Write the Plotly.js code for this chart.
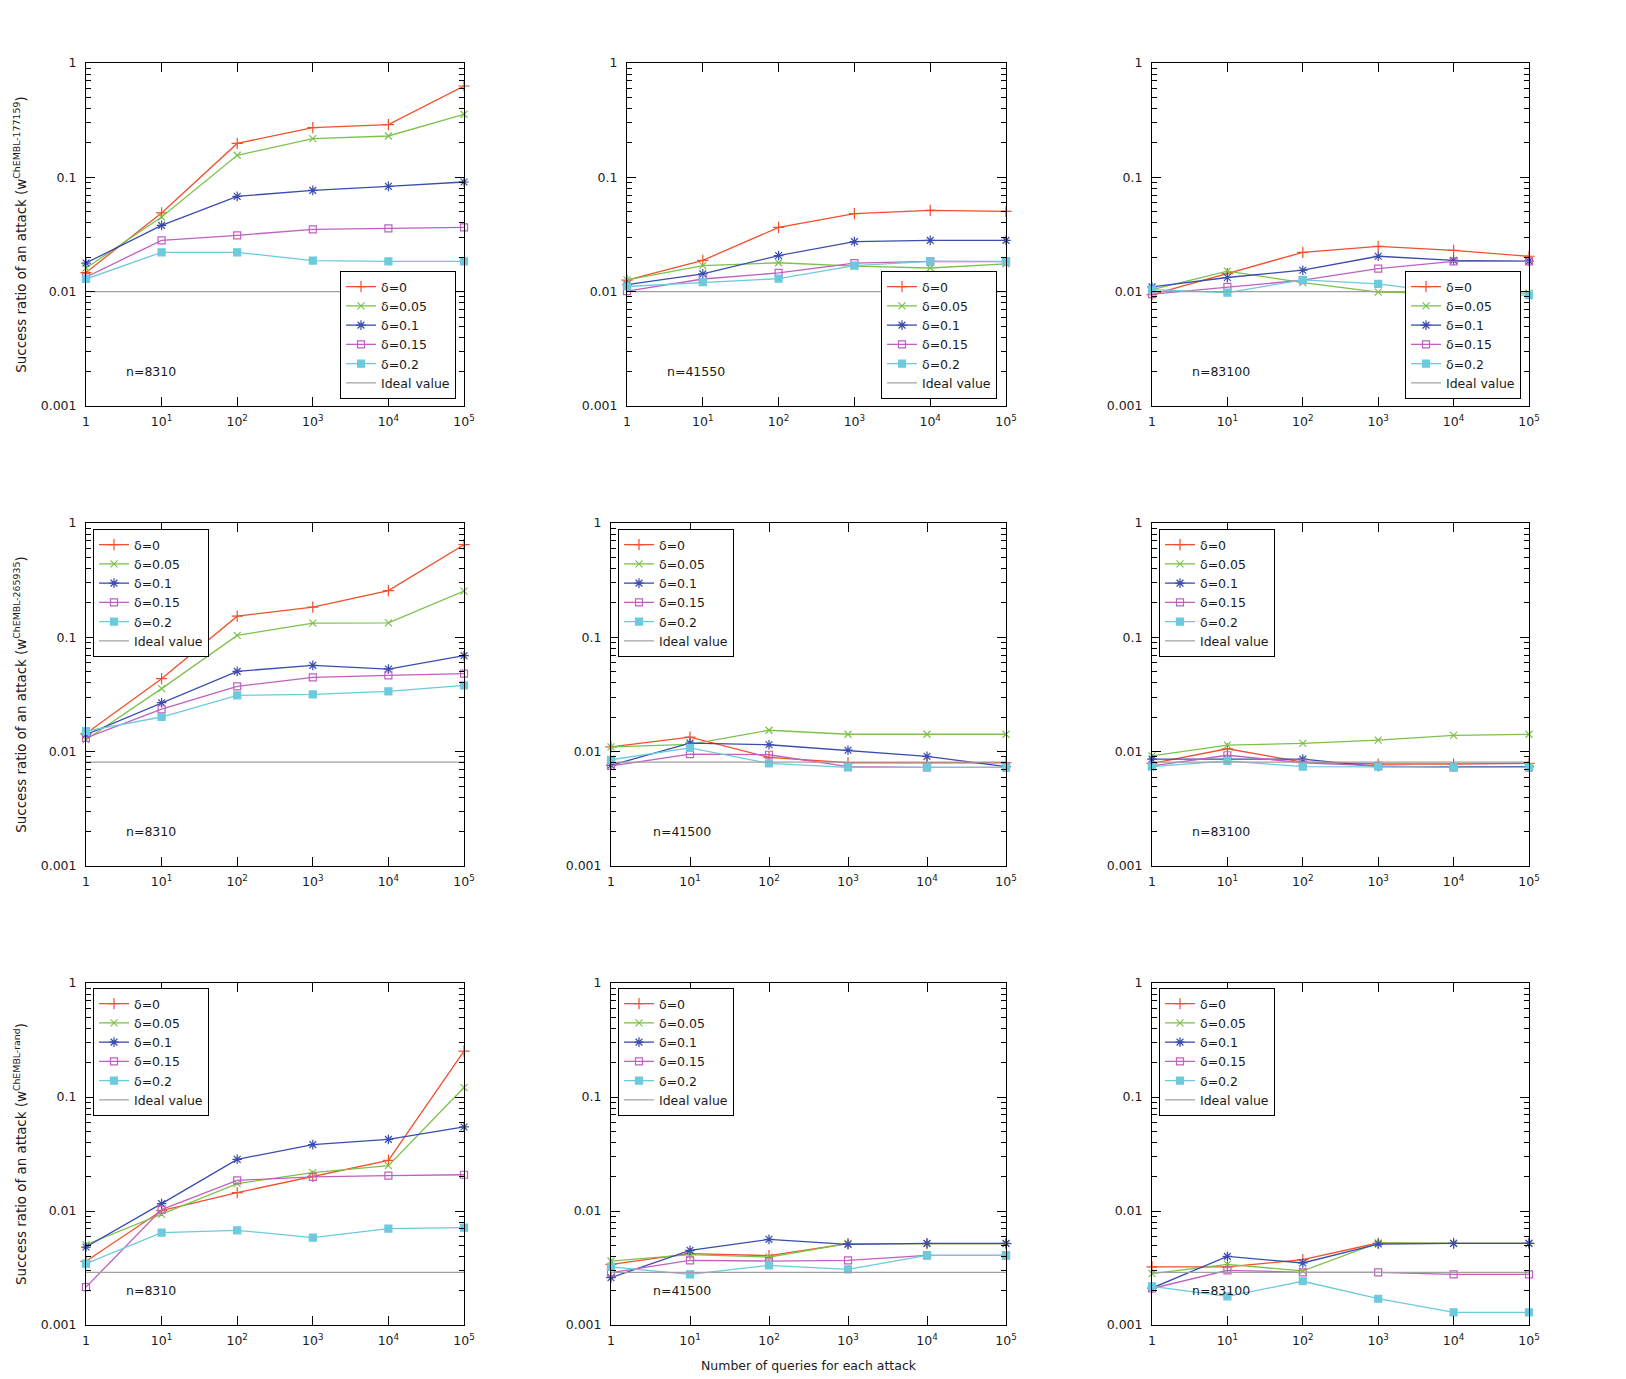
<!DOCTYPE html>
<html>
<head>
<meta charset="utf-8">
<script src="https://cdn.plot.ly/plotly-3.0.1.min.js"></script>
<style>html,body{margin:0;padding:0;background:#fff;}#chart{width:1626px;height:1379px;}</style>
</head>
<body>
<div id="chart"></div>
<script>
// ---------------- data ----------------
const queries = [1, 10, 100, 1000, 10000, 100000];
const seriesNames = ['δ=0', 'δ=0.05', 'δ=0.1', 'δ=0.15', 'δ=0.2'];
const idealName = 'Ideal value';
const xTickVals = [1, 10, 100, 1000, 10000, 100000];
const xTickText = ['1', '10<sup>1</sup>', '10<sup>2</sup>', '10<sup>3</sup>', '10<sup>4</sup>', '10<sup>5</sup>'];
const yTickVals = [0.001, 0.01, 0.1, 1];
const yTickText = ['0.001', '0.01', '0.1', '1'];
const rowDatasets = ['ChEMBL-177159', 'ChEMBL-265935', 'ChEMBL-rand'];
const panelLabels = ['n=8310', 'n=41550', 'n=83100', 'n=8310', 'n=41500', 'n=83100', 'n=8310', 'n=41500', 'n=83100'];
const idealValues = [0.01, 0.01, 0.01, 0.0081, 0.0081, 0.0081, 0.0029, 0.0029, 0.0029];
const xTitle = 'Number of queries for each attack';

// each panel: [δ=0, δ=0.05, δ=0.1, δ=0.15, δ=0.2]
const panel1 = [
  [0.0147, 0.0488, 0.198, 0.272, 0.289, 0.629],
  [0.0161, 0.045, 0.156, 0.218, 0.23, 0.356],
  [0.0178, 0.038, 0.0682, 0.0769, 0.0834, 0.091],
  [0.0134, 0.0281, 0.0311, 0.0351, 0.0358, 0.0365],
  [0.0129, 0.0221, 0.0221, 0.0187, 0.0184, 0.0184]
];
const panel2 = [
  [0.0126, 0.0188, 0.0365, 0.0481, 0.0514, 0.0504],
  [0.0127, 0.0169, 0.0179, 0.0167, 0.0161, 0.0175],
  [0.0115, 0.0143, 0.0207, 0.0274, 0.0281, 0.0281],
  [0.0101, 0.0129, 0.0146, 0.0178, 0.0184, 0.0183],
  [0.0111, 0.0121, 0.0130, 0.0169, 0.0184, 0.0184]
];
const panel3 = [
  [0.0094, 0.0144, 0.0221, 0.0249, 0.0230, 0.0204],
  [0.0104, 0.0151, 0.0120, 0.0099, 0.0096, 0.0097],
  [0.0110, 0.0133, 0.0154, 0.0204, 0.0188, 0.0185],
  [0.0095, 0.0110, 0.0126, 0.0159, 0.0184, 0.0184],
  [0.0104, 0.0098, 0.0127, 0.0117, 0.0096, 0.0093]
];
const panel4 = [
  [0.0144, 0.0435, 0.153, 0.184, 0.256, 0.646],
  [0.0127, 0.0356, 0.104, 0.133, 0.134, 0.254],
  [0.0141, 0.0268, 0.0504, 0.0569, 0.0528, 0.0691],
  [0.0132, 0.0235, 0.0373, 0.0447, 0.0465, 0.0481],
  [0.0151, 0.0201, 0.0311, 0.0317, 0.0337, 0.038]
];
const panel5 = [
  [0.0110, 0.0134, 0.0089, 0.0080, 0.0080, 0.0080],
  [0.0110, 0.0116, 0.0154, 0.0142, 0.0142, 0.0142],
  [0.0076, 0.0119, 0.0115, 0.0103, 0.0091, 0.0074],
  [0.0075, 0.0095, 0.0094, 0.0074, 0.0073, 0.0073],
  [0.0085, 0.0108, 0.0079, 0.0073, 0.0073, 0.0073]
];
const panel6 = [
  [0.0079, 0.0106, 0.0081, 0.0078, 0.0078, 0.0079],
  [0.0092, 0.0114, 0.0118, 0.0126, 0.0139, 0.0142],
  [0.0086, 0.0086, 0.0086, 0.0074, 0.0074, 0.0074],
  [0.0075, 0.0093, 0.0080, 0.0075, 0.0073, 0.0073],
  [0.0074, 0.0083, 0.0074, 0.0074, 0.0073, 0.0073]
];
const panel7 = [
  [0.00362, 0.0101, 0.0145, 0.0201, 0.0278, 0.253],
  [0.00507, 0.00935, 0.0174, 0.0217, 0.025, 0.121],
  [0.00483, 0.0116, 0.0284, 0.0382, 0.0425, 0.0546],
  [0.00215, 0.0103, 0.0186, 0.0199, 0.0204, 0.0208],
  [0.00345, 0.00646, 0.00677, 0.00584, 0.0070, 0.00714]
];
const panel8 = [
  [0.0034, 0.00422, 0.00406, 0.00517, 0.00517, 0.00517],
  [0.00364, 0.00414, 0.00395, 0.00517, 0.00517, 0.00517],
  [0.0026, 0.00452, 0.00564, 0.0051, 0.0052, 0.0052],
  [0.00288, 0.00369, 0.00364, 0.00369, 0.00408, 0.00408],
  [0.00323, 0.00278, 0.00334, 0.00308, 0.00408, 0.00408]
];
const panel9 = [
  [0.00323, 0.00323, 0.00374, 0.00524, 0.0052, 0.0052],
  [0.00282, 0.0034, 0.00298, 0.00524, 0.0052, 0.0052],
  [0.00211, 0.0040, 0.0035, 0.00513, 0.0052, 0.0052],
  [0.00209, 0.00302, 0.0029, 0.0029, 0.00278, 0.00278],
  [0.00218, 0.00178, 0.00242, 0.0017, 0.00129, 0.00129]
];
const panels = [panel1, panel2, panel3, panel4, panel5, panel6, panel7, panel8, panel9];

// ---------------- styling ----------------
const W = 1626, H = 1379;
const FONT = 'DejaVu Sans, sans-serif';
const FS = 12.5;
const TITLE_FS = 13.4;
const TXT = '#1a1a1a';
const colors = ['#f0502a', '#7cc24a', '#3a4cb0', '#c060c0', '#6ccadc'];
const idealColor = '#a0a0a0';
const symbols = ['cross-thin-open', 'x-thin-open', 'asterisk-open', 'square-open', 'square'];
const msizes = [8, 7, 8, 7, 7];

// plot-area pixel boxes [left, right], [top, bottom]
const colX = [[86, 464], [627, 1006], [1152, 1529]];
const colX2 = [611, 1006];
const rowY = [[63, 406], [523, 866], [983, 1325]];
// legend anchors (pixels)
const legendPos = [
  {x: 456, y: 399, xa: 'right', ya: 'bottom'},
  {x: 997, y: 399, xa: 'right', ya: 'bottom'},
  {x: 1521, y: 399, xa: 'right', ya: 'bottom'},
  {x: 93, y: 529, xa: 'left', ya: 'top'},
  {x: 618, y: 529, xa: 'left', ya: 'top'},
  {x: 1159, y: 529, xa: 'left', ya: 'top'},
  {x: 93, y: 988, xa: 'left', ya: 'top'},
  {x: 618, y: 988, xa: 'left', ya: 'top'},
  {x: 1159, y: 988, xa: 'left', ya: 'top'}
];

const minorVals = [];
[0.001, 0.01, 0.1].forEach(d => { for (let k = 2; k <= 9; k++) minorVals.push(d * k); });

const traces = [];
const layout = {
  width: W, height: H,
  margin: {l: 0, r: 0, t: 0, b: 0},
  paper_bgcolor: '#fff', plot_bgcolor: '#fff',
  font: {family: FONT, size: FS, color: TXT},
  annotations: []
};

panels.forEach((series, i) => {
  const r = Math.floor(i / 3), c = i % 3;
  const id = i + 1;
  const xs = id === 1 ? '' : String(id);
  const xk = 'xaxis' + xs, yk = 'yaxis' + xs;
  const xr = 'x' + xs, yr = 'y' + xs;
  const legKey = 'legend' + xs;
  const px = (c === 1 && r > 0) ? colX2 : colX[c];
  const py = rowY[r];

  series.forEach((vals, s) => {
    traces.push({
      type: 'scatter', mode: 'lines+markers',
      x: queries, y: vals, name: seriesNames[s],
      xaxis: xr, yaxis: yr, legend: legKey,
      line: {color: colors[s], width: 1.3},
      marker: {symbol: symbols[s], size: msizes[s], color: colors[s], line: {color: colors[s], width: 1.2}},
      cliponaxis: false
    });
  });
  traces.push({
    type: 'scatter', mode: 'lines',
    x: [queries[0], queries[queries.length - 1]],
    y: [idealValues[i], idealValues[i]],
    name: idealName, xaxis: xr, yaxis: yr, legend: legKey,
    line: {color: idealColor, width: 1.2}
  });

  layout[xk] = {
    type: 'log', range: [0, 5], domain: [px[0] / W, px[1] / W], anchor: yr,
    tickvals: xTickVals, ticktext: xTickText,
    ticks: 'inside', ticklen: 9, tickwidth: 1, tickcolor: '#000',
    showline: true, linecolor: '#000', linewidth: 1, mirror: 'allticks',
    showgrid: false, zeroline: false, fixedrange: true,
    tickfont: {family: FONT, size: FS, color: TXT}, ticklabelstandoff: 4
  };
  if (id === 8) {
    layout[xk].title = {text: xTitle, font: {family: FONT, size: FS, color: TXT}, standoff: 14};
  }
  layout[yk] = {
    type: 'log', range: [-3, 0], domain: [1 - py[1] / H, 1 - py[0] / H], anchor: xr,
    tickvals: yTickVals, ticktext: yTickText,
    ticks: 'inside', ticklen: 9, tickwidth: 1, tickcolor: '#000',
    minor: {tickvals: minorVals, ticks: 'inside', ticklen: 5, tickcolor: '#000', showgrid: false},
    showline: true, linecolor: '#000', linewidth: 1, mirror: 'allticks',
    showgrid: false, zeroline: false, fixedrange: true,
    tickfont: {family: FONT, size: FS, color: TXT}, ticklabelstandoff: 6
  };
  if (c === 0) {
    layout[yk].title = {
      text: 'Success ratio of an attack (w<sup>' + rowDatasets[r] + '</sup>)',
      font: {family: FONT, size: TITLE_FS, color: TXT}, standoff: 11
    };
  }
  const lp = legendPos[i];
  layout[legKey] = {
    x: lp.x / W, y: 1 - lp.y / H, xanchor: lp.xa, yanchor: lp.ya,
    bgcolor: '#fff', bordercolor: '#000', borderwidth: 1,
    font: {family: FONT, size: FS, color: TXT}, tracegroupgap: 0
  };
  layout.annotations.push({
    xref: xr, yref: yr, x: 0.5, y: -2.70, xanchor: 'left', yanchor: 'middle',
    text: panelLabels[i], showarrow: false, font: {family: FONT, size: FS, color: TXT}
  });
});

Plotly.newPlot('chart', traces, layout, {displayModeBar: false, staticPlot: true});
</script>
</body>
</html>
